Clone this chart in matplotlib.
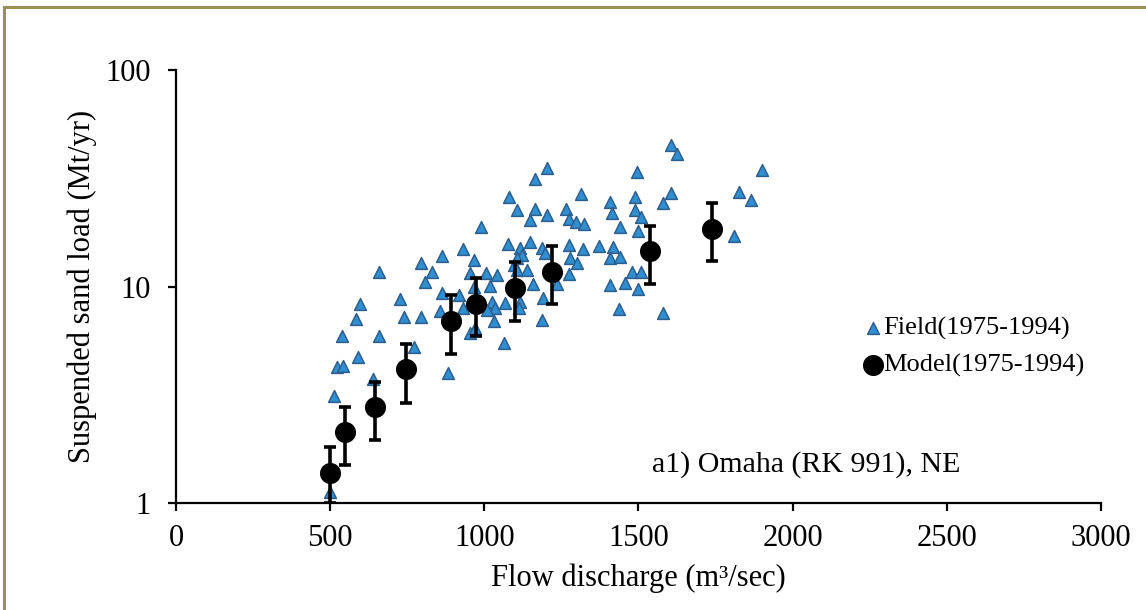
#Suspended sand load vs flow discharge, Omaha
import matplotlib.pyplot as plt
from matplotlib.patches import Rectangle
from matplotlib.ticker import FixedLocator, NullLocator

#Field observations (m3/sec, Mt/yr)
field_q = [1604, 1626, 1204, 1163, 1494, 1079, 1312, 1488, 1604, 1580,
           1407, 1106, 1163, 1204, 1149, 1265, 1274, 1296, 1322, 1415,
           1490, 1507, 1439, 1498, 988, 1076, 1149, 1117, 1122, 1106,
           1095, 1106, 1139, 1187, 1198, 1274, 1321, 1277, 1299, 1274,
           1373, 1418, 1409, 1439, 1480, 1509, 1407, 1456, 1498, 1436,
           1580, 931, 863, 795, 968, 830, 808, 952, 1007, 1041,
           1017, 965, 863, 917, 657, 597, 725, 584, 738, 795,
           857, 931, 1025, 1033, 1068, 1117, 1111, 1157, 1191, 1236,
           1187, 1030, 955, 971, 1063, 538, 659, 771, 589, 522,
           540, 639, 882, 1009, 500, 511, 1902, 1826, 1864, 1810]
field_load = [45.0, 40.9, 35.2, 31.3, 33.9, 26.0, 26.7, 26.0, 27.1, 24.2,
              24.6, 22.6, 22.8, 21.4, 20.3, 22.8, 20.4, 19.9, 19.4, 21.9,
              22.6, 20.9, 18.9, 18.1, 18.9, 15.8, 16.0, 15.0, 14.0, 13.5,
              12.6, 11.9, 11.9, 15.0, 14.3, 15.5, 14.9, 13.6, 12.9, 11.4,
              15.4, 15.2, 13.6, 13.7, 11.7, 11.7, 10.2, 10.4, 9.71, 7.85,
              7.52, 14.9, 13.8, 12.9, 13.2, 11.7, 10.5, 11.6, 11.6, 11.3,
              10.05, 9.98, 9.36, 9.14, 11.7, 8.30, 8.73, 7.06, 7.25, 7.25,
              7.73, 7.93, 8.51, 7.98, 8.36, 8.51, 7.98, 10.3, 8.82, 10.3,
              7.00, 6.95, 6.12, 6.41, 5.50, 5.91, 5.91, 5.24, 4.74, 4.26,
              4.29, 3.74, 4.00, 7.79, 1.13, 3.12, 34.5, 27.4, 25.1, 17.1]

#Model results with error range
model_q = [500, 549, 646, 747, 893, 974, 1098, 1220, 1537, 1739]
model_load = [1.38, 2.13, 2.79, 4.15, 6.93, 8.28, 9.82, 11.7, 14.6, 18.4]
model_low = [1.0, 1.50, 1.95, 2.91, 4.88, 5.91, 6.93, 8.3, 10.3, 13.1]
model_high = [1.82, 2.79, 3.63, 5.42, 9.14, 10.9, 13.0, 15.4, 19.1, 24.2]

x_ticks = [0, 500, 1000, 1500, 2000, 2500, 3000]
y_ticks = [1, 10, 100]

plt.rcParams['font.family'] = ['Liberation Serif', 'DejaVu Serif']

fig = plt.figure(figsize=(11.46, 6.10), dpi=100)
ax = fig.add_axes([0.1536, 0.1754, 0.8071, 0.7098])

#Olive frame around the chart (only top/left visible in the crop)
fig.patches.append(Rectangle((4/1146, -0.1), 1.2, (603+61)/610, transform=fig.transFigure,
                             fill=False, edgecolor='#9a8f55', linewidth=2.2))

ax.scatter(field_q, field_load, marker='^', s=72, facecolor='#2f8fd0',
           edgecolor='#2d5e8e', linewidth=1.1, zorder=2, label='Field(1975-1994)')

err_lo = [m - l for m, l in zip(model_load, model_low)]
err_hi = [h - m for m, h in zip(model_load, model_high)]
ax.errorbar(model_q, model_load, yerr=[err_lo, err_hi], fmt='none', ecolor='black',
            elinewidth=2.6, capsize=4.5, capthick=2.6, zorder=3)
ax.scatter(model_q, model_load, marker='o', s=200, color='black', zorder=4,
           label='Model(1975-1994)')

ax.set_xlim(0, 3000)
ax.set_yscale('log')
ax.set_ylim(1, 100)
ax.xaxis.set_major_locator(FixedLocator(x_ticks))
ax.yaxis.set_major_locator(FixedLocator(y_ticks))
ax.yaxis.set_minor_locator(NullLocator())
ax.set_yticklabels([str(v) for v in y_ticks])
ax.set_xticklabels([str(v) for v in x_ticks])

for s in ['top', 'right']:
    ax.spines[s].set_visible(False)
for s in ['left', 'bottom']:
    ax.spines[s].set_linewidth(1.6)
ax.tick_params(axis='both', direction='out', length=6, width=1.6, labelsize=22,
               colors='black')
ax.tick_params(axis='x', pad=9)
ax.tick_params(axis='y', pad=12)

ax.set_xlabel('Flow discharge (m³/sec)', fontsize=22, labelpad=8)
ax.set_ylabel('Suspended sand load (Mt/yr)', fontsize=22, labelpad=6)

ax.text(0.5146, 0.088, 'a1) Omaha (RK 991), NE', transform=ax.transAxes,
        fontsize=21.5, va='center')

ax.legend(loc='upper left', bbox_to_anchor=(0.725, 0.462), frameon=False, fontsize=19,
          handletextpad=-0.1, labelspacing=0.5, borderpad=0, handlelength=1.0,
          markerscale=1.0)

fig.savefig('out.png', dpi=100)
